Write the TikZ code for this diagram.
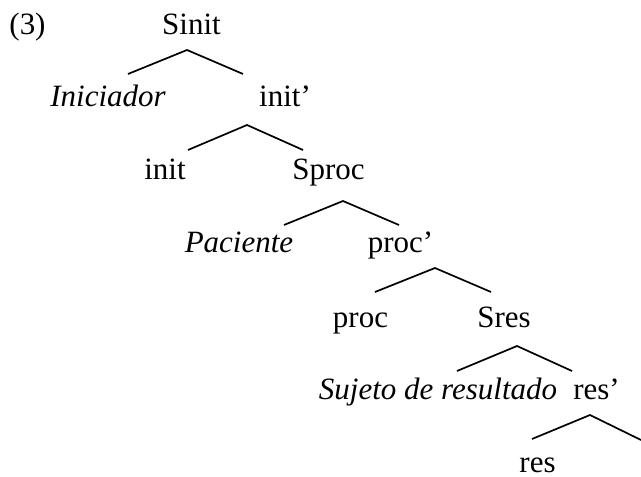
\documentclass[tikz,border=0pt]{standalone}
\usepackage{fontspec}
\setmainfont{Liberation Serif}
\begin{document}
\begin{tikzpicture}[x=1pt,y=1pt,
  lbl/.style={anchor=base,inner sep=0pt,font=\fontsize{31}{36}\selectfont},
  branch/.style={line width=1.7pt,line cap=butt,line join=miter}]
\useasboundingbox (0,0) rectangle (641,477);
% labels
\node[lbl] (ex) at (27.5,442) {(3)};
\node[lbl] (sinit) at (191.5,442) {Sinit};
\node[lbl] (inic) at (108,370) {\itshape Iniciador};
\node[lbl] (initp) at (285,370) {init’};
\node[lbl] (init) at (165,297) {init};
\node[lbl] (sproc) at (328.5,297) {Sproc};
\node[lbl] (pac) at (239,224) {\itshape Paciente};
\node[lbl] (procp) at (400.5,224) {proc’};
\node[lbl] (proc) at (360.5,149) {proc};
\node[lbl] (sres) at (504,149) {Sres};
\node[lbl] (suj) at (438,77) {\itshape Sujeto de resultado};
\node[lbl] (resp) at (596.5,77) {res’};
\node[lbl] (res) at (537.5,4) {res};
% branch points
\coordinate (a1) at (187,427); \coordinate (l1) at (128,403); \coordinate (r1) at (243,403);
\coordinate (a2) at (247,352); \coordinate (l2) at (188,327); \coordinate (r2) at (303,327);
\coordinate (a3) at (343,276); \coordinate (l3) at (284,252); \coordinate (r3) at (399,252);
\coordinate (a4) at (435,209); \coordinate (l4) at (375,185); \coordinate (r4) at (491,185);
\coordinate (a5) at (517,131); \coordinate (l5) at (457,106); \coordinate (r5) at (572,106);
\coordinate (a6) at (590,62);  \coordinate (l6) at (532,38);  \coordinate (r6) at (641,37);
\foreach \i in {1,...,6}{\draw[branch] (l\i) -- (a\i) -- (r\i);}
\end{tikzpicture}
\end{document}
